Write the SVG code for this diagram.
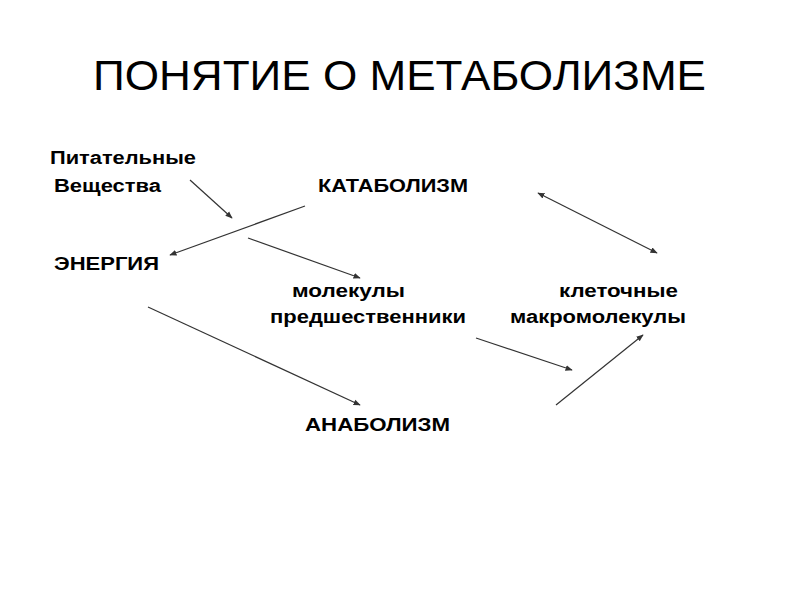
<svg xmlns="http://www.w3.org/2000/svg" width="800" height="600" viewBox="0 0 800 600">
<style>
text{font-family:"Liberation Sans",Arial,sans-serif;fill:#000}
.t{font-size:43px}
.b{font-size:18px;font-weight:bold}
.c line{stroke:#333;stroke-width:1.2}
</style>
<defs><marker id="a" viewBox="0 0 10 10" refX="9" refY="5" markerWidth="6" markerHeight="6" orient="auto-start-reverse"><path d="M0,1L10,5L0,9z" fill="#333"/></marker></defs>
<rect width="800" height="600" fill="#fff"/>
<text class="t" x="93" y="90" textLength="613" lengthAdjust="spacingAndGlyphs">ПОНЯТИЕ О МЕТАБОЛИЗМЕ</text>
<g id="n1"><text class="b" x="50" y="164" textLength="146" lengthAdjust="spacingAndGlyphs">Питательные</text><text class="b" x="54" y="192" textLength="107" lengthAdjust="spacingAndGlyphs">Вещества</text></g>
<g id="n2"><text class="b" x="318" y="192" textLength="150" lengthAdjust="spacingAndGlyphs">КАТАБОЛИЗМ</text></g>
<g id="n3"><text class="b" x="54" y="270" textLength="105" lengthAdjust="spacingAndGlyphs">ЭНЕРГИЯ</text></g>
<g id="n4"><text class="b" x="292" y="297" textLength="113" lengthAdjust="spacingAndGlyphs">молекулы</text><text class="b" x="270" y="323" textLength="196" lengthAdjust="spacingAndGlyphs">предшественники</text></g>
<g id="n5"><text class="b" x="559" y="297" textLength="119" lengthAdjust="spacingAndGlyphs">клеточные</text><text class="b" x="510" y="323" textLength="176" lengthAdjust="spacingAndGlyphs">макромолекулы</text></g>
<g id="n6"><text class="b" x="305" y="431" textLength="145" lengthAdjust="spacingAndGlyphs">АНАБОЛИЗМ</text></g>
<g class="c" id="connectors" marker-end="url(#a)">
<line x1="190" y1="180" x2="232" y2="218"/>
<line x1="305" y1="206" x2="170" y2="255"/>
<line x1="248" y1="238" x2="360" y2="278"/>
<line x1="148" y1="307" x2="360" y2="405"/>
<line x1="476" y1="338" x2="572" y2="370"/>
<line x1="556" y1="405" x2="643" y2="335"/>
<line x1="657" y1="253" x2="538" y2="193" marker-start="url(#a)"/>
</g>
</svg>
